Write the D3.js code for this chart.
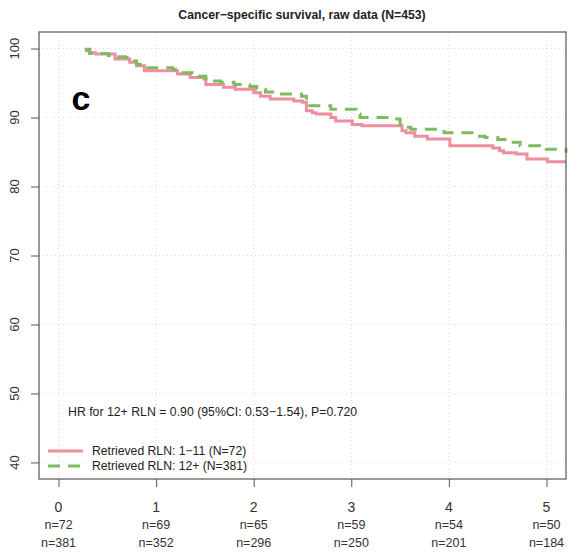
<!DOCTYPE html>
<html>
<head>
<meta charset="UTF-8">
<title>Cancer-specific survival</title>
<style>
  * { margin: 0; padding: 0; }
  body { background: #fff; font-family: "Liberation Sans", Arial, Helvetica, sans-serif; }
</style>
</head>
<body>
<div id="chart"></div>
<script src="https://d3js.org/d3.v7.min.js"></script>
<script>
  // Kaplan-Meier steps (years, % surviving)
  const lowTimes = [0.27, 0.32, 0.38, 0.58, 0.73, 0.80, 0.88, 1.22, 1.35, 1.49, 1.51, 1.69, 1.81, 2.00, 2.07, 2.17, 2.41, 2.50, 2.54, 2.60, 2.64, 2.79, 2.84, 3.01, 3.11, 3.52, 3.56, 3.65, 3.78, 4.01, 4.45, 4.52, 4.56, 4.69, 4.80, 5.01, 5.20];
  const lowSurv  = [99.7, 99.4, 99.2, 98.5, 98.0, 97.5, 96.8, 96.3, 95.8, 95.6, 94.8, 94.4, 94.1, 93.6, 93.1, 92.7, 92.4, 92.2, 91.0, 90.7, 90.5, 90.0, 89.5, 89.0, 88.8, 88.1, 87.8, 87.3, 86.9, 85.9, 85.6, 85.2, 84.9, 84.7, 84.0, 83.6, 83.6];
  const highTimes = [0.27, 0.32, 0.51, 0.60, 0.68, 0.72, 0.80, 0.88, 1.17, 1.24, 1.43, 1.51, 1.66, 1.80, 1.96, 2.03, 2.12, 2.22, 2.49, 2.54, 2.79, 3.05, 3.09, 3.43, 3.50, 3.56, 3.61, 3.95, 4.26, 4.37, 4.50, 4.61, 4.73, 4.93, 5.20];
  const highSurv  = [99.9, 99.3, 99.0, 98.8, 98.7, 98.2, 97.7, 97.2, 97.0, 96.5, 96.0, 95.3, 95.1, 94.8, 94.5, 94.1, 93.7, 93.4, 93.1, 91.7, 91.2, 90.5, 90.0, 89.8, 89.0, 88.6, 88.3, 87.8, 87.3, 87.1, 86.8, 86.4, 85.9, 85.4, 84.9];

  const xTicks = [0, 1, 2, 3, 4, 5];
  const yTicks = [40, 50, 60, 70, 80, 90, 100];
  const atRiskLow  = [72, 69, 65, 59, 54, 50];
  const atRiskHigh = [381, 352, 296, 250, 201, 184];
  const legendLabels = ["Retrieved RLN: 1\u221211 (N=72)", "Retrieved RLN: 12+ (N=381)"];

  const W = 575, H = 554;
  const box = { left: 39, right: 566, top: 32, bottom: 479 };
  const pink = "#ee8ea1", green = "#7dbb5f";

  const svg = d3.select("#chart").append("svg").attr("width", W).attr("height", H);

  // R style 4% padding on both axes
  const x = d3.scaleLinear().domain([-0.2, 5.2]).range([box.left, box.right]);
  const y = d3.scaleLinear().domain([37.6, 102.4]).range([box.bottom, box.top]);

  // Grid
  const grid = svg.append("g").attr("stroke", "#d9d9d9").attr("stroke-dasharray", "1,3");
  grid.selectAll("line.v").data(xTicks).join("line")
    .attr("x1", d => x(d)).attr("x2", d => x(d)).attr("y1", box.top).attr("y2", box.bottom);
  grid.selectAll("line.h").data(yTicks).join("line")
    .attr("y1", d => y(d)).attr("y2", d => y(d)).attr("x1", box.left).attr("x2", box.right);

  // Curves
  const line = d3.line().x(d => x(d[0])).y(d => y(d[1])).curve(d3.curveStepAfter);
  svg.append("path").datum(d3.zip(lowTimes, lowSurv))
    .attr("d", line).attr("fill", "none").attr("stroke", pink).attr("stroke-width", 3);
  svg.append("path").datum(d3.zip(highTimes, highSurv))
    .attr("d", line).attr("fill", "none").attr("stroke", green).attr("stroke-width", 3)
    .attr("stroke-dasharray", "12,8");

  // Box
  svg.append("rect").attr("x", box.left).attr("y", box.top)
    .attr("width", box.right - box.left).attr("height", box.bottom - box.top)
    .attr("fill", "none").attr("stroke", "#555").attr("stroke-width", 1.2);

  // Y axis
  const yAxis = svg.append("g").attr("transform", `translate(${box.left},0)`)
    .call(d3.axisLeft(y).tickValues(yTicks).tickSize(8).tickPadding(0).tickFormat(d3.format("d")));
  yAxis.select(".domain").remove();
  yAxis.selectAll("line").attr("stroke", "#555");
  yAxis.selectAll("text").remove();
  svg.append("g").selectAll("text").data(yTicks).join("text")
    .attr("transform", d => `translate(19,${y(d)}) rotate(-90)`)
    .attr("text-anchor", "middle").attr("font-size", 13).attr("fill", "#333")
    .text(d => d);

  // X axis
  const xAxis = svg.append("g").attr("transform", `translate(0,${box.bottom})`)
    .call(d3.axisBottom(x).tickValues(xTicks).tickSize(8).tickFormat(""));
  xAxis.select(".domain").remove();
  xAxis.selectAll("line").attr("stroke", "#555");

  const xl = svg.append("g").attr("text-anchor", "middle").attr("fill", "#333");
  xl.selectAll("text.t").data(xTicks).join("text").attr("class", "t")
    .attr("x", d => x(d)).attr("y", 512).attr("font-size", 14).text(d => d);
  xl.selectAll("text.a").data(atRiskLow).join("text").attr("class", "a")
    .attr("x", (d, i) => x(xTicks[i])).attr("y", 529).attr("font-size", 12.5).text(d => "n=" + d);
  xl.selectAll("text.b").data(atRiskHigh).join("text").attr("class", "b")
    .attr("x", (d, i) => x(xTicks[i])).attr("y", 547).attr("font-size", 12.5).text(d => "n=" + d);

  // Title and panel letter
  svg.append("text").attr("x", 302).attr("y", 19).attr("text-anchor", "middle")
    .attr("font-size", 12.2).attr("font-weight", "bold").attr("fill", "#222")
    .text("Cancer\u2212specific survival, raw data (N=453)");
  svg.append("text").attr("x", 81).attr("y", 110).attr("text-anchor", "middle")
    .attr("font-size", 34).attr("font-weight", "bold").attr("fill", "#000").text("c");

  // Hazard ratio note
  svg.append("text").attr("x", 68).attr("y", 416).attr("font-size", 12.3).attr("fill", "#222")
    .text("HR for 12+ RLN = 0.90 (95%CI: 0.53\u22121.54), P=0.720");

  // Legend
  const leg = svg.append("g");
  [pink, green].forEach((c, i) => {
    const ly = 451 + i * 15;
    leg.append("line").attr("x1", 48).attr("x2", 83).attr("y1", ly).attr("y2", ly)
      .attr("stroke", c).attr("stroke-width", 3)
      .attr("stroke-dasharray", i === 1 ? "12,8" : null);
    leg.append("text").attr("x", 92).attr("y", ly + 4).attr("font-size", 12.2).attr("fill", "#222")
      .text(legendLabels[i]);
  });
</script>
</body>
</html>
